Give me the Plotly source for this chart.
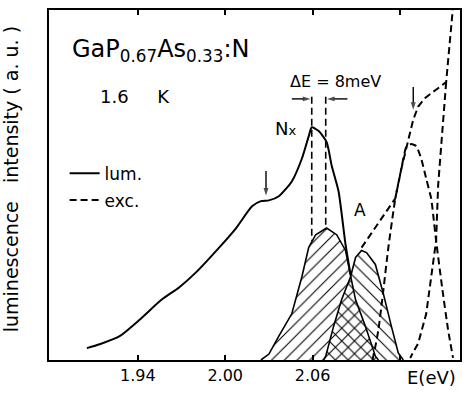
import plotly.graph_objects as go

# ---------------- data (energy in eV, intensity in a.u.) ----------------
lum_e = [1.905, 1.9138, 1.9275, 1.9412, 1.9562, 1.9685, 1.9801, 1.9958, 2.0075,
         2.0184, 2.0245, 2.0300, 2.0368, 2.0457, 2.0526, 2.0573, 2.0594, 2.0642,
         2.0696, 2.0731, 2.0778, 2.0826, 2.0860]
lum_i = [0.034, 0.045, 0.068, 0.115, 0.172, 0.208, 0.251, 0.321, 0.377,
         0.439, 0.454, 0.456, 0.468, 0.510, 0.575, 0.639, 0.665, 0.654,
         0.623, 0.555, 0.482, 0.330, 0.245]

# hatched N_x luminescence component
nx_e = [2.0245, 2.0300, 2.0368, 2.0457, 2.0526, 2.0573, 2.0621, 2.0696, 2.0765,
        2.0826, 2.0860, 2.0895, 2.0963, 2.1031, 2.1052]
nx_i = [0.0, 0.017, 0.068, 0.132, 0.237, 0.321, 0.358, 0.377, 0.358,
        0.313, 0.242, 0.172, 0.096, 0.011, 0.0]

# hatched A luminescence component
a_e = [2.0676, 2.0690, 2.0744, 2.0799, 2.0860, 2.0895, 2.0936, 2.0970, 2.1031,
       2.1086, 2.1141, 2.1188, 2.1223]
a_i = [0.0, 0.011, 0.096, 0.172, 0.237, 0.293, 0.313, 0.307, 0.273,
       0.189, 0.096, 0.020, 0.0]

# excitation spectrum (dashed)
exc_e = [2.0936, 2.1052, 2.1168, 2.1209, 2.1257, 2.1291, 2.1325, 2.1373, 2.1517,
         2.1537, 2.1562]
exc_i = [0.321, 0.392, 0.462, 0.546, 0.631, 0.687, 0.724, 0.749, 0.794,
         0.885, 1.0]

# excitation peak (dashed)
exc2_e = [2.1011, 2.1031, 2.1052, 2.1086, 2.1120, 2.1168, 2.1209, 2.1243, 2.1277,
          2.1312, 2.1346, 2.1380, 2.1414, 2.1434, 2.1448, 2.1489, 2.1530, 2.1564]
exc2_i = [0.0, 0.039, 0.087, 0.200, 0.321, 0.462, 0.546, 0.608, 0.617,
          0.611, 0.575, 0.518, 0.462, 0.392, 0.341, 0.208, 0.087, 0.006]

# steep excitation branch (dashed)
exc3_e = [2.1517, 2.1496, 2.1476, 2.1462, 2.1455, 2.1448, 2.1380, 2.1325, 2.1270]
exc3_i = [0.794, 0.668, 0.575, 0.499, 0.414, 0.341, 0.132, 0.048, 0.006]

# Delta E markers
de_e = [2.0594, 2.0690]
de_top = [0.752, 0.752]
de_bot = [0.341, 0.372]

# arrows: (tail_e, tail_i, head_e, head_i)
arrows = [
    (2.0457, 0.746, 2.0585, 0.746),
    (2.0839, 0.746, 2.0699, 0.746),
    (2.0280, 0.540, 2.0280, 0.470),
    (2.1291, 0.780, 2.1291, 0.715),
]

tick_vals = [1.94, 2.00, 2.06, 2.12]
tick_text = ["1.94", "2.00", "2.06", ""]

FONT = "DejaVu Sans"
DASH = "7px,4px"

fig = go.Figure()

fig.add_trace(go.Scatter(
    x=nx_e, y=nx_i, mode="lines", fill="toself",
    fillcolor="rgba(0,0,0,0)",
    fillpattern=dict(shape="/", size=9, solidity=0.12, fgcolor="black",
                     bgcolor="rgba(0,0,0,0)", fillmode="replace"),
    line=dict(color="black", width=1.6), showlegend=False, hoverinfo="skip"))

fig.add_trace(go.Scatter(
    x=a_e, y=a_i, mode="lines", fill="toself",
    fillcolor="rgba(0,0,0,0)",
    fillpattern=dict(shape="\\", size=9, solidity=0.12, fgcolor="black",
                     bgcolor="rgba(0,0,0,0)", fillmode="replace"),
    line=dict(color="black", width=1.6), showlegend=False, hoverinfo="skip"))

fig.add_trace(go.Scatter(
    x=lum_e, y=lum_i, mode="lines", name="lum.",
    line=dict(color="black", width=2, shape="spline", smoothing=0.6),
    legend="legend"))

fig.add_trace(go.Scatter(
    x=exc_e, y=exc_i, mode="lines", name="exc.",
    line=dict(color="black", width=2, dash=DASH), legend="legend2"))

fig.add_trace(go.Scatter(
    x=exc2_e, y=exc2_i, mode="lines", showlegend=False,
    line=dict(color="black", width=2, dash=DASH, shape="spline", smoothing=0.5)))

fig.add_trace(go.Scatter(
    x=exc3_e, y=exc3_i, mode="lines", showlegend=False,
    line=dict(color="black", width=2, dash=DASH)))

for e, t, b in zip(de_e, de_top, de_bot):
    fig.add_trace(go.Scatter(
        x=[e, e], y=[t, b], mode="lines", showlegend=False,
        line=dict(color="black", width=1.6, dash=DASH)))

for te, ti, he, hi in arrows:
    fig.add_trace(go.Scatter(
        x=[te, he], y=[ti, hi], mode="lines+markers", showlegend=False,
        hoverinfo="skip",
        line=dict(color="black", width=1.4),
        marker=dict(symbol="arrow", size=[0, 8], angleref="previous",
                    color="black", line=dict(width=0))))

ann = []
ann.append(dict(x=1.8935, y=0.885, xref="x", yref="y", xanchor="left", yanchor="middle",
                text="GaP<sub>0.67</sub>As<sub>0.33</sub>:N", showarrow=False,
                font=dict(size=24, family=FONT, color="black")))
ann.append(dict(x=1.9125, y=0.752, xref="x", yref="y", xanchor="left", yanchor="middle",
                text="1.6     K", showarrow=False,
                font=dict(size=18, family=FONT, color="black")))
ann.append(dict(x=2.0758, y=0.797, xref="x", yref="y", xanchor="center", yanchor="middle",
                text="ΔE = 8meV", showarrow=False,
                font=dict(size=16, family=FONT, color="black")))
ann.append(dict(x=2.0411, y=0.662, xref="x", yref="y", xanchor="center", yanchor="middle",
                text="N<span style='font-size:13px'>x</span>", showarrow=False,
                font=dict(size=18, family=FONT, color="black")))
ann.append(dict(x=2.0922, y=0.428, xref="x", yref="y", xanchor="center", yanchor="middle",
                text="A", showarrow=False,
                font=dict(size=17, family=FONT, color="black")))
ann.append(dict(x=2.1417, y=-0.051, xref="x", yref="paper", xanchor="center", yanchor="middle",
                text="E(eV)", showarrow=False,
                font=dict(size=18, family=FONT, color="black")))
ann.append(dict(x=-0.092, y=0.517, xref="paper", yref="paper", xanchor="center",
                yanchor="middle", textangle=-90,
                text="luminescence   intensity ( a. u. )", showarrow=False,
                font=dict(size=19, family=FONT, color="black")))

fig.update_layout(
    width=470, height=393,
    margin=dict(l=49, r=8, t=9, b=29),
    paper_bgcolor="white", plot_bgcolor="white",
    font=dict(family=FONT, color="black"),
    annotations=ann,
    legend=dict(x=0.038, y=0.532, xref="paper", yref="paper", xanchor="left",
                yanchor="middle", bgcolor="rgba(0,0,0,0)", borderwidth=0,
                font=dict(size=17, family=FONT, color="black")),
    legend2=dict(x=0.038, y=0.456, xref="paper", yref="paper", xanchor="left",
                 yanchor="middle", bgcolor="rgba(0,0,0,0)", borderwidth=0,
                 font=dict(size=17, family=FONT, color="black")),
    xaxis=dict(range=[1.879, 2.1612], showline=True, linewidth=2, linecolor="black",
               mirror="allticks", ticks="inside", ticklen=5, tickwidth=1.5,
               tickcolor="black", tickvals=tick_vals, ticktext=tick_text,
               tickfont=dict(size=16, family=FONT, color="black"),
               showgrid=False, zeroline=False),
    yaxis=dict(range=[0, 1], showline=True, linewidth=2, linecolor="black",
               mirror=True, ticks="", showticklabels=False, showgrid=False,
               zeroline=False),
)

fig.write_html("out.html")
